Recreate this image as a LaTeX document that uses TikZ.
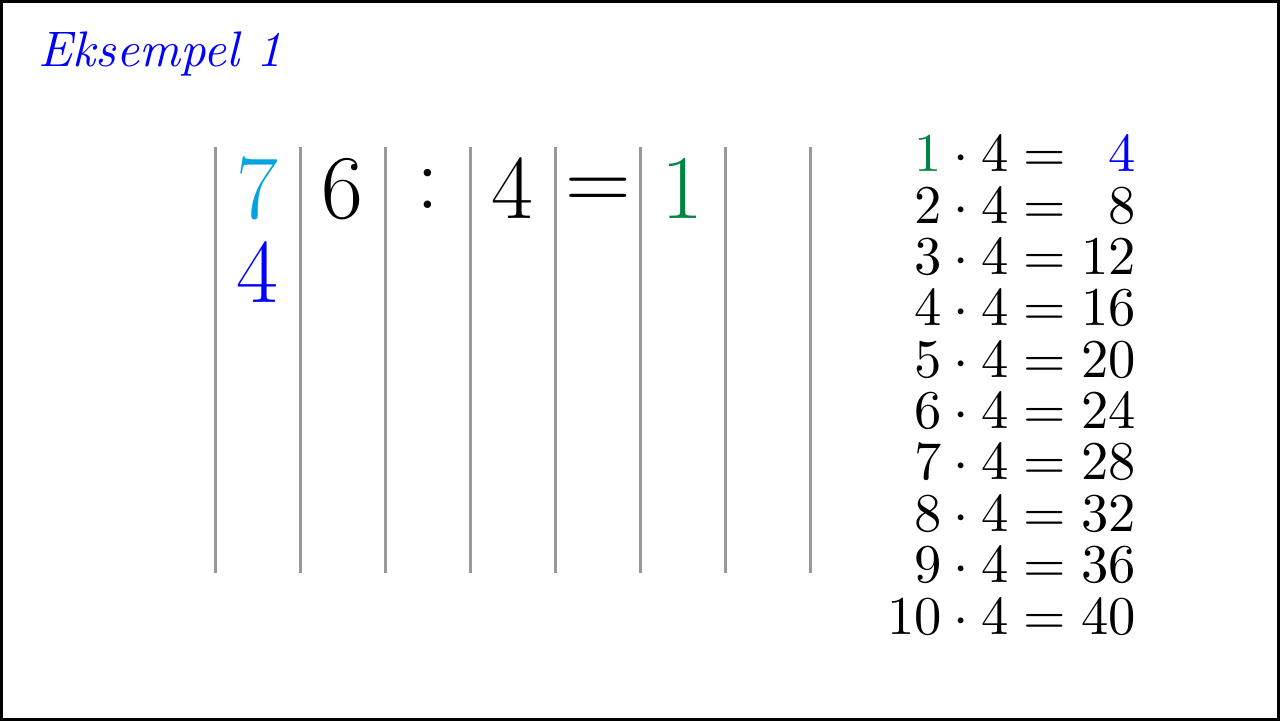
\RequirePackage{fix-cm}
\documentclass[tikz,border=0pt]{standalone}
\usepackage{xcolor}
\definecolor{cyanA}{RGB}{0,164,227}
\definecolor{greenA}{RGB}{0,133,67}
\definecolor{grayline}{RGB}{153,153,153}
\begin{document}
\begin{tikzpicture}[x=0.5pt,y=-0.5pt,
  sep/.style={draw=grayline,line width=1.5pt},
  big/.style={anchor=base,inner sep=0pt,font=\fontsize{45.5}{54}\selectfont},
  tab/.style={anchor=base east,inner sep=0pt,scale=2.73}]
\useasboundingbox (0,0) rectangle (1280,721);
\draw[line width=1.5pt] (1.5,1.5) rectangle (1278.5,719.5);
\node[anchor=base west,inner sep=0pt,text=blue,scale=2.5,font=\itshape] (title) at (38,67) {Eksempel 1};
% separators
\foreach \i [count=\k] in {215,300,385,470,555,640,725,810}{
  \coordinate (t\k) at (\i,147);
  \coordinate (b\k) at (\i,573);
  \draw[sep] (t\k) -- (b\k);
}
\node[big,text=cyanA] (d7) at (257.5,219) {$7$};
\node[big,text=blue] (d4) at (257.5,303) {$4$};
\node[big] (d6) at (342.5,219) {$6$};
\node[big] (col) at (428,208.5) {$:$};
\node[big] (dv) at (512.5,219) {$4$};
\node[big] (eq) at (598,210.5) {$=$};
\node[big,text=greenA] (q1) at (682.5,219) {$1$};
% table
\node[tab] (r1) at (1137,172) {$\textcolor{greenA}{1}\cdot 4=\phantom{0}\textcolor{blue}{4}$};
\node[tab] (r2) at (1137,223.3) {$2\cdot 4=\phantom{0}8$};
\node[tab] (r3) at (1137,274.7) {$3\cdot 4=12$};
\node[tab] (r4) at (1137,326) {$4\cdot 4=16$};
\node[tab] (r5) at (1137,377.3) {$5\cdot 4=20$};
\node[tab] (r6) at (1137,428.7) {$6\cdot 4=24$};
\node[tab] (r7) at (1137,480) {$7\cdot 4=28$};
\node[tab] (r8) at (1137,531.3) {$8\cdot 4=32$};
\node[tab] (r9) at (1137,582.7) {$9\cdot 4=36$};
\node[tab] (r10) at (1137,634) {$10\cdot 4=40$};
\end{tikzpicture}
\end{document}
